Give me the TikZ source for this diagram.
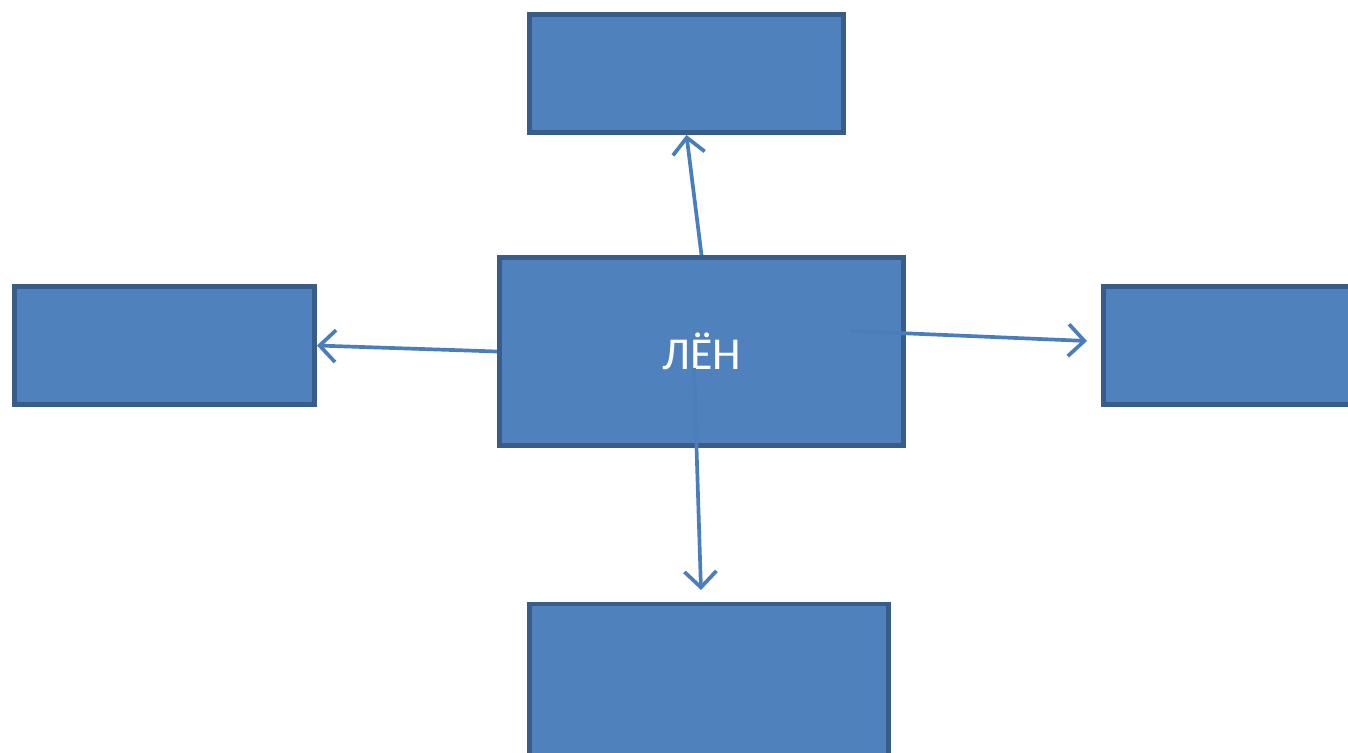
\documentclass[tikz,border=0pt]{standalone}
\usepackage{fontspec}
\setmainfont{Carlito}
\usetikzlibrary{arrows.meta}
\definecolor{boxfill}{HTML}{4F81BD}
\definecolor{boxline}{HTML}{385D8A}
\definecolor{arrline}{HTML}{4A7EBB}
\tikzset{
    blockbox/.style={draw=boxline, fill=boxfill, line width=2.8pt, rectangle,
        inner sep=0pt, text=white},
    linkarrow/.style={draw=arrline, line width=2.1pt,
        -{Straight Barb[length=3.2mm, width=6.4mm, line width=2.1pt]}}
}
\begin{document}
\begin{tikzpicture}[x=0.02cm, y=-0.02cm]
                \clip (0, 0) rectangle (1348, 753);
                \fill [white] (0, 0) rectangle (1348, 753);
                \node [blockbox, minimum width=314*0.02cm, minimum height=118*0.02cm] (top) at (686.5, 73.5) {};
                \node [blockbox, minimum width=300*0.02cm, minimum height=118*0.02cm] (left) at (164.5, 345.5) {};
                \node [blockbox, minimum width=300*0.02cm, minimum height=118*0.02cm] (right) at (1253.5, 345.5) {};
                \node [blockbox, minimum width=359*0.02cm, minimum height=160*0.02cm] (bottom) at (709, 684) {};
                \node [blockbox, minimum width=404*0.02cm, minimum height=188*0.02cm,
                    font=\fontsize{26}{30}\selectfont] (len) at (701.5, 351.5) {ЛЁН};
                \coordinate (rstart) at (851, 331);
                \coordinate (rend) at (1087, 341);
                \coordinate (dstart) at (694, 368);
                \coordinate (dend) at (701, 590);
                \draw [linkarrow] (len.north) -- (top.south);
                \draw [linkarrow] (len.west) -- (left.east);
                \draw [linkarrow] (rstart) -- (rend);
                \draw [linkarrow] (dstart) -- (dend);
            \end{tikzpicture}
\end{document}
